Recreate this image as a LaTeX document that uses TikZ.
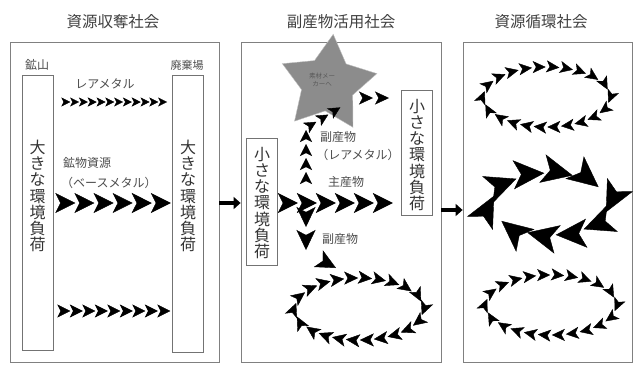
\documentclass[tikz,border=0pt]{standalone}
\usepackage{fontspec}
\setmainfont{Noto Sans CJK JP}
\usetikzlibrary{arrows.meta,decorations.markings,shapes.geometric}

\begin{document}
\begin{tikzpicture}[x=1pt, y=-1pt, font=\fontsize{12}{14}\selectfont,
		panel/.style={draw=black!50, line width=0.8pt, minimum height=320pt, inner sep=0pt},
		loadbox/.style={draw=black!55, line width=0.7pt, inner sep=0pt, minimum width=31pt},
		vtext/.style={align=center, text=black!80, font=\fontsize{16}{16.3}\selectfont, inner sep=0pt},
		title/.style={text=black!75, font=\fontsize{15.5}{17}\selectfont},
		lbl/.style={text=black!70, font=\fontsize{12}{13}\selectfont, inner sep=1pt},
		heads/.style n args={4}{postaction={decorate, decoration={markings,
			mark=between positions #1 and 1 step #2 with {\arrow{Stealth[length=#3, width=#4, inset'=0pt 0.25]}}}}},
		bigarrow/.style={line width=4.5pt, -{Triangle[length=7pt, width=12pt]}}]
		\useasboundingbox (0,0) rectangle (635,365);
		\node[title] (t1) at (113,22) {資源収奪社会};
		\node[title] (t2) at (341,22) {副産物活用社会};
		\node[title] (t3) at (541,22) {資源循環社会};
		\node[panel, minimum width=209pt] (soc1) at (114.5,202) {};
		\node[panel, minimum width=200pt] (soc2) at (341,202) {};
		\node[panel, minimum width=169pt] (soc3) at (547.5,202) {};
		\draw[bigarrow] ([yshift=-203pt]soc1.east |- 0,0) -- ([yshift=-203pt]soc2.west |- 0,0);
		\draw[bigarrow] ([yshift=-210pt]soc2.east |- 0,0) -- ([yshift=-210pt]soc3.west |- 0,0);
		\node[loadbox, minimum height=275pt] (mine) at (37.5,212.5) {};
		\node[loadbox, minimum height=277pt] (dump) at (188,213.5) {};
		\node[vtext] (mineload) at (37.5,196) {大\\き\\な\\環\\境\\負\\荷};
		\node[vtext] (dumpload) at (188,196) {大\\き\\な\\環\\境\\負\\荷};
		\node[lbl] (minelbl) at (37,65) {鉱山};
		\node[lbl, font=\fontsize{11}{12}\selectfont] (dumplbl) at (187,65) {廃棄場};
		\node[lbl] (rare1) at (105,84) {レアメタル};
		\node[lbl, anchor=west] (ore) at (62,163) {鉱物資源};
		\node[lbl, anchor=west] (base) at (60,183) {（ベースメタル）};
		\path[heads={17pt}{8.8pt}{9pt}{9pt}] (mine.east |- 0,102) -- (dump.west |- 0,102);
		\path[heads={22pt}{19.1pt}{20pt}{20pt}] (mine.east |- 0,203) -- (dump.west |- 0,203);
		\path[heads={17pt}{12.5pt}{13pt}{13pt}] (mine.east |- 0,311) -- (dump.west |- 0,311);
		\node[loadbox, minimum height=127pt] (small1) at (262,201.5) {};
		\node[loadbox, minimum height=125pt] (small2) at (417,153) {};
		\node[vtext] (small1load) at (262,203) {小\\さ\\な\\環\\境\\負\\荷};
		\node[vtext] (small2load) at (417,155) {小\\さ\\な\\環\\境\\負\\荷};
		\node[star, star points=5, star point ratio=1.85, minimum size=100pt, inner sep=0pt,
			fill=black!45, draw=black!25, rotate=-6] (gem) at (328,84) {};
		\node[align=center, text=black!65, font=\fontsize{6.5}{8}\selectfont] (gemtxt) at (322,80) {素材メー\\カーへ};
		\coordinate (split) at (306,203);
		\coordinate (rise) at (306,128);
		\coordinate (gemin) at (346,104);
		\coordinate (gemout) at (358,98);
		\coordinate (gemend) at (389,98);
		\coordinate (drop) at (306,252);
		\coordinate (loopin) at (336,268);
		\path[heads={20pt}{19pt}{20pt}{20pt}] (small1.east |- split) -- (small2.west |- split);
		\path[heads={31pt}{14pt}{12pt}{12pt}] (split) -- (rise) -- (gemin);
		\path[heads={15pt}{16pt}{14pt}{13pt}] (gemout) -- (gemend);
		\path[heads={24pt}{23pt}{20pt}{19pt}] (split) -- (drop);
		\path[heads={1}{1}{20pt}{19pt}] (drop) -- (loopin);
		\node[lbl] (byprod1) at (338,137) {副産物};
		\node[lbl] (rare2) at (358,155) {（レアメタル）};
		\node[lbl] (mainprod) at (346,182) {主産物};
		\node[lbl] (byprod2) at (340,239) {副産物};
		\path[heads={0.02}{0.04545}{14pt}{13pt}] (359,309) ellipse [x radius=64, y radius=31];
		\path[heads={0.02}{0.04545}{13pt}{12pt}] (546.5,97) ellipse [x radius=63, y radius=30];
		\path[heads={0.03}{0.1}{31pt}{29pt}] (550,204) ellipse [x radius=58, y radius=31];
		\path[heads={0.02}{0.04545}{13pt}{12pt}] (551,305) ellipse [x radius=65, y radius=30];
	\end{tikzpicture}
\end{document}
